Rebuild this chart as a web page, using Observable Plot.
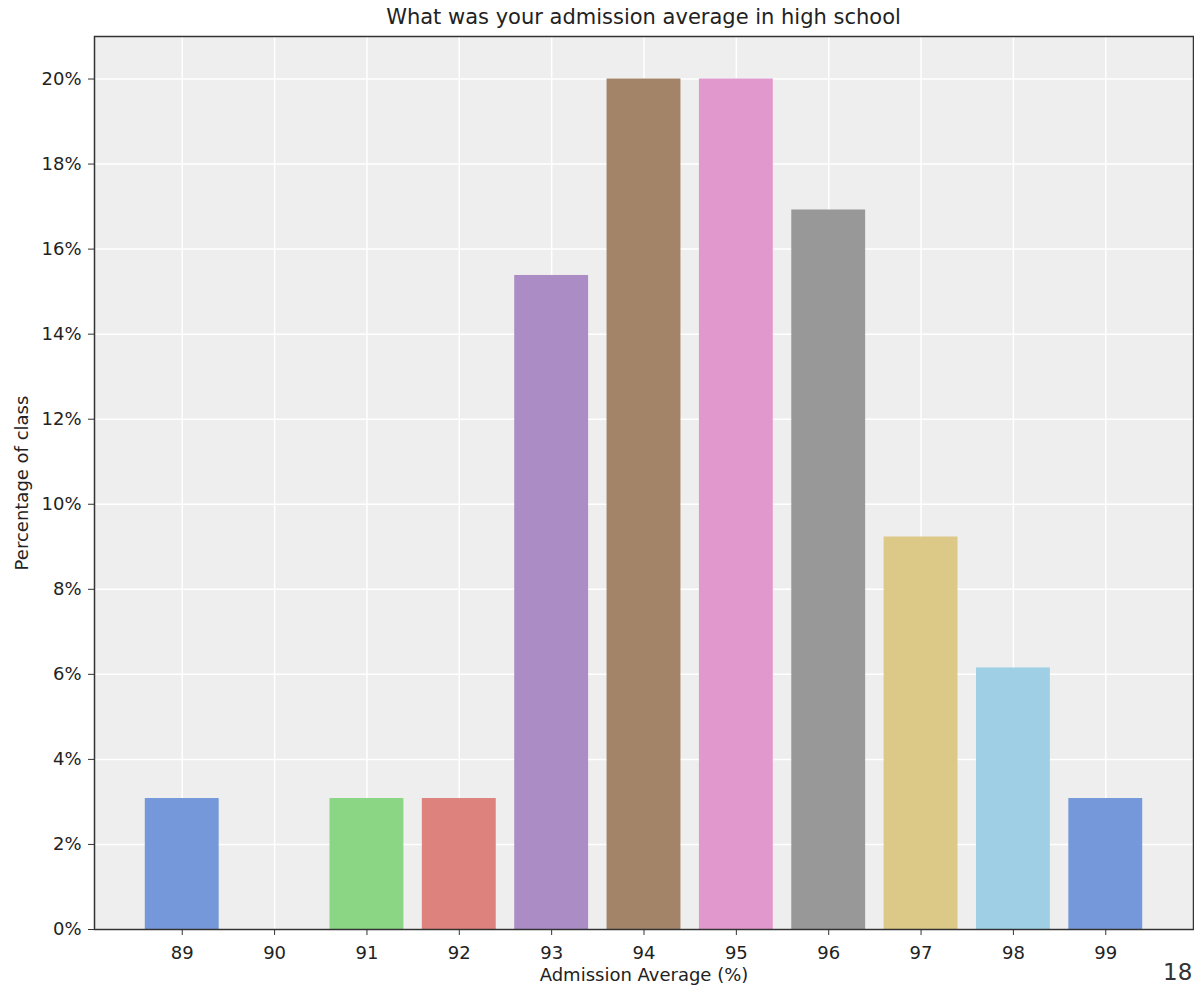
<!DOCTYPE html>
<html><head><meta charset="utf-8">
<script src="https://cdn.jsdelivr.net/npm/d3@7"></script>
<script src="https://cdn.jsdelivr.net/npm/@observablehq/plot@0.6"></script>
<style>
body{margin:0;background:#fff;font-family:"DejaVu Sans",sans-serif;}
#wrap{position:relative;width:1194px;height:985px;overflow:hidden;background:#fff}
#title{height:34px;line-height:34px;font-size:21px;color:#222;padding-left:94px;padding-right:1px;text-align:center;white-space:nowrap}
#page{position:absolute;left:1163px;top:961px;font-size:23px;line-height:23px;color:#333}
svg{display:block}
</style></head><body>
<div id="wrap"><div id="title">What was your admission average in high school</div><div id="chart"></div><div id="page">18</div></div>
<script>
const scores = [89, 90, 91, 92, 93, 94, 95, 96, 97, 98, 99];
const percents = [3.08, 0, 3.08, 3.08, 15.38, 20, 20, 16.92, 9.23, 6.15, 3.08];
const colors = ["#7498d9", "#7498d9", "#8bd684", "#de827e", "#ab8cc5", "#a38468", "#e199cd", "#989898", "#dcc887", "#9ecfe5", "#7498d9"];
const yTicks = [0, 2, 4, 6, 8, 10, 12, 14, 16, 18, 20];
const xLabel = "Admission Average (%)";
const yLabel = "Percentage of class";

const data = scores.map((s, i) => ({score: s, pct: percents[i], color: colors[i]}));

const plot = Plot.plot({
  width: 1194, height: 951,
  marginLeft: 94, marginRight: 1, marginTop: 2, marginBottom: 56,
  style: {fontFamily: '"DejaVu Sans", sans-serif', fontSize: "18px", color: "#222", background: "white"},
  x: {domain: [88.05, 99.95], label: null},
  y: {domain: [0, 21], label: null},
  color: {type: "identity"},
  marks: [
    Plot.frame({fill: "#eeeeee"}),
    Plot.gridX(scores, {stroke: "white", strokeOpacity: 1, strokeWidth: 1.5}),
    Plot.gridY(yTicks, {stroke: "white", strokeOpacity: 1, strokeWidth: 1.5}),
    Plot.rectY(data.filter(d => d.pct > 0), {x1: d => d.score - 0.4, x2: d => d.score + 0.4, y1: 0, y2: "pct", fill: "color"}),
    Plot.frame({stroke: "#333", strokeWidth: 1.5}),
    Plot.axisX(scores, {tickSize: 6, tickPadding: 11, tickFormat: d => String(d), label: null, fontSize: 18, stroke: "#333"}),
    Plot.axisY(yTicks, {tickSize: 6, tickPadding: 7, tickFormat: d => d + "%", label: null, fontSize: 18, stroke: "#333"}),
    Plot.text([xLabel], {frameAnchor: "bottom", dy: 51, fontSize: 18, fill: "#222"}),
    Plot.text([yLabel], {frameAnchor: "left", dx: -72, rotate: -90, textAnchor: "middle", fontSize: 18, fill: "#222"})
  ]
});
document.getElementById("chart").appendChild(plot);
</script>
</body></html>
